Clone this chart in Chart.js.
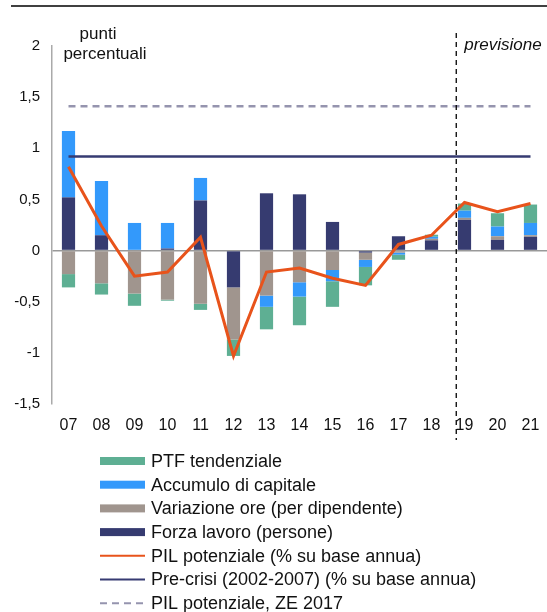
<!DOCTYPE html>
<html>
<head>
<meta charset="utf-8">
<script src="https://cdn.jsdelivr.net/npm/chart.js@4.4.1/dist/chart.umd.min.js"></script>
<style>
  html, body { margin: 0; padding: 0; background: #fff; }
  #wrap { width: 547px; height: 612px; position: relative; }
</style>
</head>
<body>
<div id="wrap"><canvas id="myChart" width="547" height="612"></canvas></div>
<script>
const anni = ['07', '08', '09', '10', '11', '12', '13', '14', '15', '16', '17', '18', '19', '20', '21'];

// contributi (punti percentuali)
const forzaLavoro   = [0.52, 0.15, 0.00, 0.02, 0.49, -0.36, 0.56, 0.55, 0.28, -0.02, 0.14, 0.10, 0.30, 0.105, 0.135];
const variazioneOre = [-0.23, -0.32, -0.42, -0.48, -0.52, -0.51, -0.44, -0.31, -0.19, -0.07, -0.02, 0.015, 0.02, 0.035, 0.015];
const accumulo      = [0.65, 0.53, 0.27, 0.25, 0.22, 0.00, -0.11, -0.14, -0.11, -0.07, -0.02, 0.02, 0.07, 0.095, 0.12];
const ptf           = [-0.13, -0.11, -0.12, -0.01, -0.06, -0.16, -0.22, -0.28, -0.25, -0.18, -0.05, 0.02, 0.07, 0.13, 0.18];
const pilPotenziale = [0.82, 0.24, -0.25, -0.21, 0.13, -1.03, -0.21, -0.17, -0.27, -0.34, 0.06, 0.15, 0.47, 0.38, 0.46];
const preCrisi = 0.92;
const pilZE2017 = 1.41;

const yTicks = [-1.5, -1, -0.5, 0, 0.5, 1, 1.5, 2];
const inizioPrevisione = '19';

const FONT = 'Arial, "Liberation Sans", sans-serif';

const labelsPlugin = {
  id: 'extras',
  afterDraw(chart) {
    const ctx = chart.ctx;
    const x = chart.scales.x;
    ctx.save();

    // top rule
    ctx.strokeStyle = '#000';
    ctx.lineWidth = 1.3;
    ctx.beginPath();
    ctx.moveTo(11, 6);
    ctx.lineTo(547, 6);
    ctx.stroke();

    // forecast separator
    const i = anni.indexOf(inizioPrevisione);
    const px = x.getPixelForValue(i - 1) + 0.75 * (x.getPixelForValue(i) - x.getPixelForValue(i - 1));
    ctx.strokeStyle = '#000';
    ctx.lineWidth = 1.3;
    ctx.setLineDash([5, 4]);
    ctx.beginPath();
    ctx.moveTo(px, 33);
    ctx.lineTo(px, 440);
    ctx.stroke();
    ctx.setLineDash([]);

    ctx.fillStyle = '#111';
    ctx.textBaseline = 'alphabetic';
    ctx.font = 'italic 17px ' + FONT;
    ctx.textAlign = 'left';
    ctx.fillText('previsione', px + 8, 50);

    ctx.font = '17px ' + FONT;
    ctx.textAlign = 'center';
    ctx.fillText('punti', 98, 39);
    ctx.fillText('percentuali', 105, 59);

    // legend, one item per row
    const order = [3, 2, 1, 0, 4, 5, 6];
    ctx.font = '18px ' + FONT;
    ctx.textAlign = 'left';
    ctx.textBaseline = 'middle';
    order.forEach((di, k) => {
      const ds = chart.data.datasets[di];
      const yy = 461 + k * 23.7;
      if (ds.type === 'line') {
        ctx.strokeStyle = ds.borderColor;
        ctx.lineWidth = ds.legendWidth || 2;
        ctx.setLineDash(ds.borderDash || []);
        ctx.beginPath();
        ctx.moveTo(100, yy);
        ctx.lineTo(145, yy);
        ctx.stroke();
        ctx.setLineDash([]);
      } else {
        ctx.fillStyle = ds.backgroundColor;
        ctx.fillRect(100, yy - 4, 45, 8);
      }
      ctx.fillStyle = '#111';
      ctx.fillText(ds.label, 151, yy + 1);
    });
    ctx.restore();
  }
};

const data = {
  labels: anni,
  datasets: [
    { label: 'Forza lavoro (persone)', data: forzaLavoro, backgroundColor: '#363B70', stack: 'contributi', order: 2 },
    { label: 'Variazione ore (per dipendente)', data: variazioneOre, backgroundColor: '#A0958E', stack: 'contributi', order: 2 },
    { label: 'Accumulo di capitale', data: accumulo, backgroundColor: '#3399FB', stack: 'contributi', order: 2 },
    { label: 'PTF tendenziale', data: ptf, backgroundColor: '#5EAF93', stack: 'contributi', order: 2 },
    {
      type: 'line', label: 'PIL potenziale (% su base annua)', data: pilPotenziale,
      borderColor: '#E8531B', borderWidth: 3, pointRadius: 0, stack: 'pil', order: 0, legendWidth: 2
    },
    {
      type: 'line', label: 'Pre-crisi (2002-2007) (% su base annua)', data: anni.map(() => preCrisi),
      borderColor: '#363B72', borderWidth: 2.5, pointRadius: 0, stack: 'precrisi', order: 1, legendWidth: 2
    },
    {
      type: 'line', label: 'PIL potenziale, ZE 2017', data: anni.map(() => pilZE2017),
      borderColor: '#9594AE', borderWidth: 2.5, borderDash: [7, 5], pointRadius: 0, stack: 'ze', order: 1,
      legendWidth: 2
    }
  ]
};

const config = {
  type: 'bar',
  data: data,
  plugins: [labelsPlugin],
  options: {
    responsive: false,
    animation: false,
    layout: { padding: { top: 46, right: 0, bottom: 0, left: 0 } },
    datasets: { bar: { categoryPercentage: 1, barPercentage: 0.4 } },
    plugins: { legend: { display: false }, tooltip: { enabled: false } },
    scales: {
      x: {
        stacked: true,
        offset: true,
        grid: { display: false, drawTicks: false },
        border: { display: false },
        ticks: { color: '#111', font: { size: 16, family: FONT }, padding: 12, maxRotation: 0 },
        afterFit(scale) {
          scale.height = 208;
          scale.paddingLeft = 0;
          scale.paddingRight = 0;
        }
      },
      y: {
        stacked: true,
        min: -1.5,
        max: 2,
        afterBuildTicks(scale) { scale.ticks = yTicks.map(v => ({ value: v })); },
        grid: {
          drawTicks: false,
          lineWidth: 1.5,
          color: (c) => (c.tick && c.tick.value === 0 ? '#999' : 'rgba(0,0,0,0)')
        },
        border: { display: true, color: '#aaa', width: 1.5 },
        ticks: {
          color: '#111',
          padding: 12,
          font: { size: 15, family: FONT },
          callback: (v) => String(v).replace('.', ',')
        },
        afterFit(scale) { scale.width = 52; }
      }
    }
  }
};

const myChart = new Chart(document.getElementById('myChart'), config);
</script>
</body>
</html>
